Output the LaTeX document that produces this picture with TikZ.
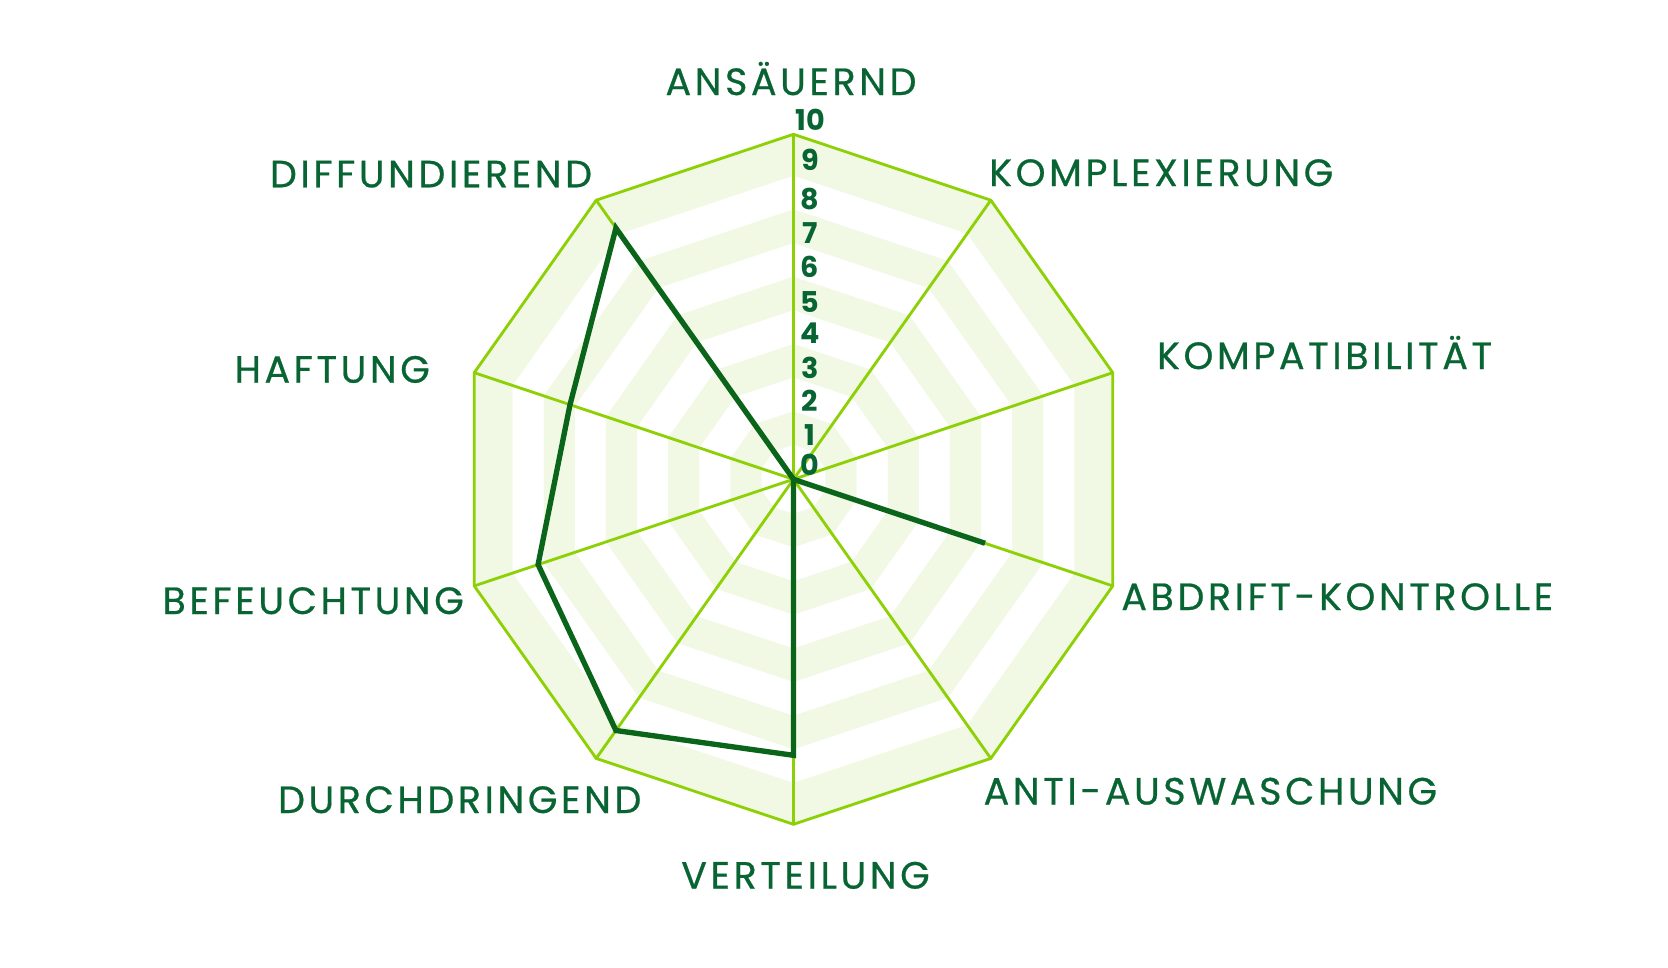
\documentclass[tikz,border=0pt]{standalone}
\usepackage{fontspec}
\setmainfont{Poppins}
\newfontfamily\catfont[LetterSpace=9.5, FakeBold=0.6]{Poppins}
\usetikzlibrary{calc}

\definecolor{spokegreen}{RGB}{141,208,5}
\definecolor{bandgreen}{RGB}{241,249,228}
\definecolor{seriesgreen}{RGB}{10,100,25}
\definecolor{textgreen}{RGB}{8,100,50}

\begin{document}
\begin{tikzpicture}[x=0.3pt, y=-0.3pt]
	\tikzstyle{band} = [
		fill=bandgreen, even odd rule];
	\tikzstyle{spoke} = [
		draw=spokegreen, line width=0.85pt];
	\tikzstyle{rim} = [
		draw=spokegreen, line width=0.85pt, line join=miter];
	\tikzstyle{series} = [
		draw=seriesgreen, line width=1.6pt, line join=miter];
	\tikzstyle{catlabel} = [
		inner sep=0pt, text=textgreen,
		font={\catfont\fontsize{11.4}{13}\selectfont}];
	\tikzstyle{ticklabel} = [
		inner sep=0pt, text=textgreen,
		font={\bfseries\fontsize{8.6}{10}\selectfont}];

	\useasboundingbox (0,0) rectangle (1668,968);

	\coordinate (c) at (793.5,479.3);

	\begin{scope}[shift={(c)}, xscale=0.973, yscale=-1]
		% alternating rings
		\foreach \ra/\rb in {34.5/68.1, 101.8/135.4, 169.1/202.7, 236.3/270.0, 303.6/345} {
			\fill[band] (90:\ra) \foreach \k in {1,...,9} { -- ({90+36*\k}:\ra) } -- cycle
				(90:\rb) \foreach \k in {1,...,9} { -- ({90+36*\k}:\rb) } -- cycle;
		}
		% rim corners
		\foreach \k in {0,...,9}
			\coordinate (v\k) at ({90-36*\k}:345);
		% data points (value x 34.5)
		\foreach \name/\ang/\val in {ansaeuernd/90/0, komplex/54/0, kompat/18/0,
				abdrift/-18/6, anti/-54/0, vert/-90/8, durch/-126/9,
				befeucht/-162/8, haftung/-198/7, diffund/-234/9}
			\coordinate (d-\name) at (\ang:{\val*34.5});
	\end{scope}

	\foreach \k in {0,...,9}
		\draw[spoke] (c) -- (v\k);
	\draw[rim] (v0) -- (v1) -- (v2) -- (v3) -- (v4) -- (v5) -- (v6) -- (v7) -- (v8) -- (v9) -- cycle;

	\draw[series] (d-ansaeuernd) -- (d-komplex) -- (d-kompat) -- (d-abdrift) -- (d-anti)
		-- (d-vert) -- (d-durch) -- (d-befeucht) -- (d-haftung) -- (d-diffund) -- cycle;

	% scale
	\foreach \v/\yy in {0/465, 1/435, 2/401, 3/368, 4/333, 5/302, 6/267, 7/233, 8/199.5, 9/160, 10/120}
		\node[ticklabel] (t\v) at (810,\yy) {\v};

	% categories
	\node[catlabel, anchor=base] (l-ansaeuernd) at (791,95) {ANSÄUERND};
	\node[catlabel, anchor=base west] (l-komplex) at (988.6,186) {KOMPLEXIERUNG};
	\node[catlabel, anchor=base west] (l-kompat) at (1156.5,369) {KOMPATIBILITÄT};
	\node[catlabel, anchor=base west] (l-abdrift) at (1120.7,610) {ABDRIFT-KONTROLLE};
	\node[catlabel, anchor=base west] (l-anti) at (983,804.5) {ANTI-AUSWASCHUNG};
	\node[catlabel, anchor=base] (l-vert) at (805.5,888.6) {VERTEILUNG};
	\node[catlabel, anchor=base east] (l-durch) at (642,813) {DURCHDRINGEND};
	\node[catlabel, anchor=base east] (l-befeucht) at (464.5,614) {BEFEUCHTUNG};
	\node[catlabel, anchor=base east] (l-haftung) at (430.5,382.7) {HAFTUNG};
	\node[catlabel, anchor=base east] (l-diffund) at (592.7,187.3) {DIFFUNDIEREND};
\end{tikzpicture}
\end{document}
